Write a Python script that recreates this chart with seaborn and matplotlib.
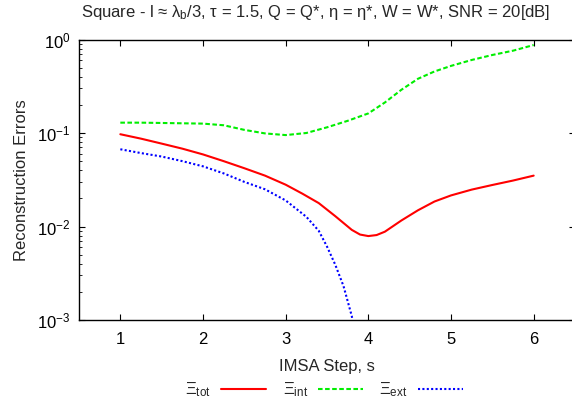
import matplotlib
matplotlib.use("Agg")
import matplotlib.pyplot as plt
import seaborn as sns
import pandas as pd
import numpy as np
from matplotlib.ticker import LogLocator, NullFormatter, FixedLocator

# ---- data ----
steps_tot = [1, 1.25, 1.5, 1.75, 2, 2.25, 2.5, 2.75, 3, 3.2, 3.4, 3.6, 3.8,
             3.9, 4.0, 4.1, 4.2, 4.4, 4.6, 4.8, 5.0, 5.25, 5.5, 5.75, 6]
xi_tot = [0.097, 0.087, 0.077, 0.068, 0.059, 0.050, 0.042, 0.035, 0.028,
          0.0225, 0.0178, 0.0129, 0.0092, 0.0082, 0.0079, 0.0081, 0.0088,
          0.0116, 0.0149, 0.0185, 0.0215, 0.0248, 0.0278, 0.031, 0.035]
steps_int = [1, 1.25, 1.5, 1.75, 2, 2.25, 2.5, 2.75, 3, 3.25, 3.5, 3.75,
             4.0, 4.2, 4.4, 4.6, 4.8, 5.0, 5.25, 5.5, 5.75, 6]
xi_int = [0.129, 0.129, 0.128, 0.127, 0.126, 0.121, 0.108, 0.099, 0.095,
          0.100, 0.115, 0.135, 0.162, 0.212, 0.29, 0.38, 0.455, 0.522,
          0.604, 0.683, 0.759, 0.873]
steps_ext = [1, 1.25, 1.5, 1.75, 2, 2.25, 2.5, 2.75, 3, 3.25, 3.4, 3.5, 3.6,
             3.7, 3.8, 3.85]
xi_ext = [0.067, 0.061, 0.056, 0.050, 0.044, 0.037, 0.030, 0.025, 0.019,
          0.0127, 0.0090, 0.0061, 0.0039, 0.0023, 0.0011, 0.0006]
series_names = ["tot", "int", "ext"]
legend_labels = [r"Ξ$_{tot}$", r"Ξ$_{int}$", r"Ξ$_{ext}$"]
x_ticks = [1, 2, 3, 4, 5, 6]
title = r"Square - l ≈ λ$_{b}$/3, τ = 1.5, Q = Q*, η = η*, W = W*, SNR = 20[dB]"

df = pd.concat([
    pd.DataFrame({"s": steps_tot, "err": xi_tot, "series": "tot"}),
    pd.DataFrame({"s": steps_int, "err": xi_int, "series": "int"}),
    pd.DataFrame({"s": steps_ext, "err": xi_ext, "series": "ext"}),
], ignore_index=True)

sns.set_style("ticks")
plt.rcParams["font.family"] = ["Liberation Sans", "DejaVu Sans"]
plt.rcParams["mathtext.fontset"] = "custom"
plt.rcParams["mathtext.rm"] = "Liberation Sans"
plt.rcParams["mathtext.it"] = "Liberation Sans"
plt.rcParams["mathtext.default"] = "regular"

fig = plt.figure(figsize=(5.72, 4.12), dpi=100)
ax = fig.add_axes([79 / 572, 92 / 412, 496 / 572, 280.5 / 412])

palette = {"tot": "#ff0000", "int": "#00ee00", "ext": "#0000ff"}
dashes = {"tot": "", "int": (2.2, 1.2), "ext": (1, 1.1)}
sns.lineplot(data=df, x="s", y="err", hue="series", style="series",
             hue_order=series_names, style_order=series_names,
             palette=palette, dashes=dashes, estimator=None, sort=False,
             linewidth=1.5, legend=False, ax=ax)
for ln in ax.lines:
    ln.set_solid_joinstyle("round")
    ln.set_dash_joinstyle("round")

ax.set_yscale("log")
ax.set_xlim(0.5, 6.5)
ax.set_ylim(1e-3, 1e0)
ax.xaxis.set_major_locator(FixedLocator(x_ticks))
ax.set_xticklabels([str(t) for t in x_ticks])
ax.yaxis.set_major_locator(LogLocator(base=10, numticks=10))
ax.yaxis.set_minor_locator(LogLocator(base=10, subs=np.arange(2, 10), numticks=20))
ax.yaxis.set_minor_formatter(NullFormatter())
ax.tick_params(which="both", direction="in", top=True, right=True, colors="black",
               labelsize=12)
ax.tick_params(which="major", length=4.5, width=0.8)
ax.tick_params(which="minor", length=2.2, width=0.6)
ax.tick_params(axis="x", which="major", pad=9)
ax.tick_params(axis="y", which="major", pad=6)
for sp in ax.spines.values():
    sp.set_visible(True)
    sp.set_linewidth(1.0)
    sp.set_color("black")

ax.set_xlabel("IMSA Step, s", fontsize=12, labelpad=8)
ax.set_ylabel("Reconstruction Errors", fontsize=12, labelpad=6)
fig.text(316 / 572, 1 - 13 / 412, title, ha="center", va="center", fontsize=12)

handles = ax.lines[:3]
fig.legend(handles, legend_labels, loc="center", bbox_to_anchor=(324 / 572, 22 / 412),
           ncol=3, frameon=False, markerfirst=False, fontsize=12,
           handlelength=2.7, handletextpad=0.6, columnspacing=1.0)

fig.savefig("out.png", dpi=100)
